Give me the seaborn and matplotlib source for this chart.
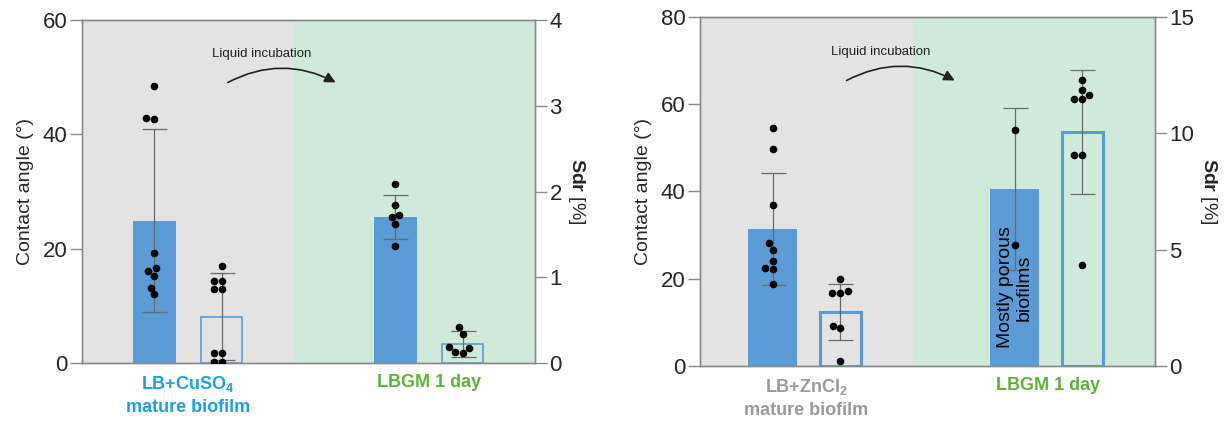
import numpy as np
import pandas as pd
import matplotlib
matplotlib.use('Agg')
import matplotlib.pyplot as plt
import matplotlib.transforms as mtransforms
import seaborn as sns

sns.set_style('white')
plt.rcParams['font.family'] = ['Liberation Sans', 'DejaVu Sans']
plt.rcParams['mathtext.fontset'] = 'custom'
plt.rcParams['mathtext.rm'] = 'Liberation Sans'
plt.rcParams['mathtext.bf'] = 'Liberation Sans:bold'

# Cores
BLUE = '#5b9bd5'
GREY_BG = '#e3e3e3'
GREEN_BG = '#d0eada'
ERR = '#6a6a6a'
SPINE = '#8a8a8a'

groups = ['mature', 'LBGM']

# Painel esquerdo (CuSO4)
cu_labels = ['LB+CuSO$_\\mathbf{4}$\nmature biofilm', 'LBGM 1 day']
cu_label_colors = ['#1ba1e2', '#5bb33a']
cu_ca_mean = [24.9, 25.5]
cu_ca_sd = [16.0, 3.85]
cu_ca_pts = [[48.4, 42.8, 42.7, 19.3, 16.6, 16.1, 15.2, 13.2, 12.0],
             [31.3, 27.6, 25.9, 25.5, 24.3, 20.5]]
cu_sdr_mean = [0.54, 0.22]
cu_sdr_sd = [0.51, 0.155]
cu_sdr_pts = [[1.13, 0.96, 0.96, 0.86, 0.86, 0.12, 0.12, 0.01, 0.01],
              [0.42, 0.34, 0.19, 0.18, 0.12, 0.125]]

# Painel direito (ZnCl2)
zn_labels = ['LB+ZnCl$_\\mathbf{2}$\nmature biofilm', 'LBGM 1 day']
zn_label_colors = ['#9a9a9a', '#5bb33a']
zn_ca_mean = [31.4, 40.6]
zn_ca_sd = [12.8, 18.6]
zn_ca_pts = [[54.6, 49.7, 36.9, 28.2, 26.6, 24.1, 22.5, 22.2, 18.8],
             [54.1, 27.7]]
zn_sdr_mean = [2.32, 10.06]
zn_sdr_sd = [1.22, 2.66]
zn_sdr_pts = [[3.73, 3.22, 3.12, 3.12, 1.73, 1.62, 0.23],
              [12.28, 11.87, 11.66, 11.47, 11.47, 9.07, 9.07, 4.34]]

OFF = 0.14          # deslocamento de cada barra em relação ao centro do grupo
XMIN, XMAX, SPLIT = -0.44, 1.44, 0.44


def long_df(pts):
    rows = []
    for g, vals in zip(groups, pts):
        for v in vals:
            rows.append({'group': g, 'value': v})
    return pd.DataFrame(rows)


def draw_panel(ax, ca_mean, ca_sd, ca_pts, sdr_mean, sdr_sd, sdr_pts,
               ca_ticks, sdr_ticks, ca_w, sdr_w, hollow_lw, labels, label_colors):
    ax2 = ax.twinx()
    measures = ['CA', 'Sdr']

    # barras do ângulo de contato (cheias, eixo esquerdo)
    ca_df = pd.DataFrame({'group': groups, 'measure': 'CA', 'value': ca_mean})
    sns.barplot(data=ca_df, x='group', y='value', hue='measure', hue_order=measures,
                order=groups, dodge=True, width=4 * OFF, gap=1 - ca_w / (2 * OFF),
                palette={'CA': BLUE, 'Sdr': BLUE}, saturation=1, errorbar=None,
                legend=False, linewidth=0, ax=ax, zorder=2)

    # barras do Sdr (vazadas, eixo direito)
    sdr_df = pd.DataFrame({'group': groups, 'measure': 'Sdr', 'value': sdr_mean})
    sns.barplot(data=sdr_df, x='group', y='value', hue='measure', hue_order=measures,
                order=groups, dodge=True, width=4 * OFF, gap=1 - sdr_w / (2 * OFF),
                palette={'CA': BLUE, 'Sdr': BLUE}, saturation=1, errorbar=None,
                legend=False, fill=False, linewidth=hollow_lw, ax=ax2, zorder=2)

    xpos = np.arange(len(groups))
    ax.errorbar(xpos - OFF, ca_mean, yerr=ca_sd, fmt='none', ecolor=ERR,
                elinewidth=0.9, capsize=9, capthick=0.9, zorder=3)
    ax2.errorbar(xpos + OFF, sdr_mean, yerr=sdr_sd, fmt='none', ecolor=ERR,
                 elinewidth=0.9, capsize=9, capthick=0.9, zorder=3)

    # pontos individuais
    left_shift = mtransforms.Affine2D().translate(-OFF, 0) + ax.transData
    right_shift = mtransforms.Affine2D().translate(OFF, 0) + ax2.transData
    sns.swarmplot(data=long_df(ca_pts), x='group', y='value', order=groups,
                  color='black', size=5.5, ax=ax, transform=left_shift, zorder=4)
    sns.swarmplot(data=long_df(sdr_pts), x='group', y='value', order=groups,
                  color='black', size=5.5, ax=ax2, transform=right_shift, zorder=4)

    # fundo cinza / verde
    ax.axvspan(XMIN, SPLIT, color=GREY_BG, lw=0, zorder=0)
    ax.axvspan(SPLIT, XMAX, color=GREEN_BG, lw=0, zorder=0)

    ax.set_xlim(XMIN, XMAX)
    ax.set_ylim(ca_ticks[0], ca_ticks[-1])
    ax2.set_ylim(sdr_ticks[0], sdr_ticks[-1])
    ax.set_yticks(ca_ticks)
    ax2.set_yticks(sdr_ticks)

    ax.set_xticks(xpos)
    ax.set_xticklabels(labels, fontsize=13, fontweight='bold', linespacing=1.35)
    for lbl, c in zip(ax.get_xticklabels(), label_colors):
        lbl.set_color(c)
    ax.set_xlabel('')
    ax2.set_xlabel('')
    ax.set_ylabel('Contact angle (°)', fontsize=14, labelpad=6)
    ax2.set_ylabel(r'$\mathbf{Sdr}$ [%]', fontsize=14, rotation=270, labelpad=18)

    for a in (ax, ax2):
        for s in a.spines.values():
            s.set_visible(True)
            s.set_color(SPINE)
            s.set_linewidth(1)
        a.tick_params(axis='y', length=8.5, width=1, color=SPINE, labelsize=16,
                      pad=2, direction='out')
        a.tick_params(axis='x', length=0, pad=8)
    ax.yaxis.tick_left()
    ax2.yaxis.tick_right()

    ax.text(0.397, 0.9, 'Liquid incubation', transform=ax.transAxes,
            fontsize=9.5, ha='center', va='center', color='#222222')
    ax.annotate('', xy=(0.56, 0.818), xytext=(0.322, 0.818),
                xycoords='axes fraction', textcoords='axes fraction',
                arrowprops=dict(arrowstyle='-|>', color='#222222', lw=1.2,
                                mutation_scale=16, shrinkA=0, shrinkB=0,
                                connectionstyle='arc3,rad=-0.26'))
    return ax2


fig = plt.figure(figsize=(12.24, 4.23), dpi=100)
ax_l = fig.add_axes([0.0670, 0.1418, 0.3701, 0.8109])
ax_r = fig.add_axes([0.5719, 0.1348, 0.3717, 0.8251])

draw_panel(ax_l, cu_ca_mean, cu_ca_sd, cu_ca_pts, cu_sdr_mean, cu_sdr_sd, cu_sdr_pts,
           [0, 20, 40, 60], [0, 1, 2, 3, 4], 0.18, 0.17, 1.2, cu_labels, cu_label_colors)
draw_panel(ax_r, zn_ca_mean, zn_ca_sd, zn_ca_pts, zn_sdr_mean, zn_sdr_sd, zn_sdr_pts,
           [0, 20, 40, 60, 80], [0, 5, 10, 15], 0.2, 0.17, 2.2, zn_labels, zn_label_colors)

ax_r.text(1 - OFF, 18, 'Mostly porous\nbiofilms', rotation=90, ha='center', va='center',
          fontsize=14, color='black', zorder=5, linespacing=1.1)

fig.savefig('out.png', dpi=100)
